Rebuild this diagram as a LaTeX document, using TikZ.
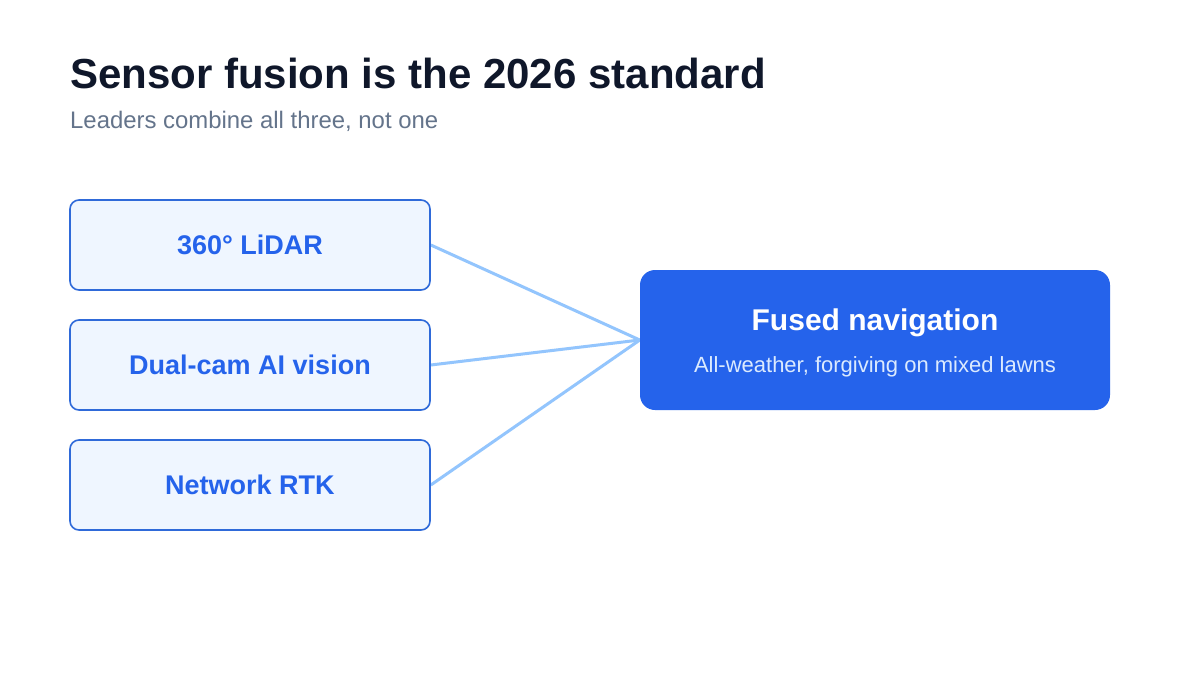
\documentclass[tikz,border=0pt]{standalone}
\usepackage{fontspec}
\setmainfont{Liberation Sans}
\usetikzlibrary{backgrounds}
\definecolor{titlec}{HTML}{0F172A}
\definecolor{subc}{HTML}{64748B}
\definecolor{boxfill}{HTML}{EFF6FF}
\definecolor{boxline}{HTML}{2F6AD9}
\definecolor{boxtext}{HTML}{2563EB}
\definecolor{fusedfill}{HTML}{2563EB}
\definecolor{fusedsub}{HTML}{DBEAFE}
\definecolor{linkc}{HTML}{93C5FD}
\begin{document}
\begin{tikzpicture}[x=1pt,y=-1pt,
  srcbox/.style={draw=boxline, line width=1.6pt, fill=boxfill, rounded corners=9pt,
    minimum width=360pt, minimum height=90pt, inner sep=0pt,
    font=\fontsize{27}{31}\selectfont\bfseries, text=boxtext},
  fusedbox/.style={fill=fusedfill, rounded corners=15pt, minimum width=470pt,
    minimum height=140pt, inner sep=0pt},
  link/.style={draw=linkc, line width=3pt}]
\useasboundingbox (0,0) rectangle (1200,675);
\node[anchor=base west, inner sep=0pt, text=titlec, font=\fontsize{42}{48}\selectfont\bfseries] (title) at (70,88) {Sensor fusion is the 2026 standard};
\node[anchor=base west, inner sep=0pt, text=subc, font=\fontsize{23.9}{28}\selectfont] (subtitle) at (70,128) {Leaders combine all three, not one};
\node[srcbox] (lidar) at (250,245) {360° LiDAR};
\node[srcbox] (vision) at (250,365) {Dual-cam AI vision};
\node[srcbox] (rtk) at (250,485) {Network RTK};
\node[fusedbox] (fused) at (875,340) {};
\node[anchor=base, inner sep=0pt, text=white, font=\fontsize{30}{34}\selectfont\bfseries] (fusedtitle) at (875,330) {Fused navigation};
\node[anchor=base, inner sep=0pt, text=fusedsub, font=\fontsize{22}{26}\selectfont] (fusedsubt) at (875,372) {All-weather, forgiving on mixed lawns};
\begin{scope}[on background layer]
\fill[white] (0,0) rectangle (1200,675);
\draw[link] (lidar.east) -- (fused.west);
\draw[link] (vision.east) -- (fused.west);
\draw[link] (rtk.east) -- (fused.west);
\end{scope}
\end{tikzpicture}
\end{document}
